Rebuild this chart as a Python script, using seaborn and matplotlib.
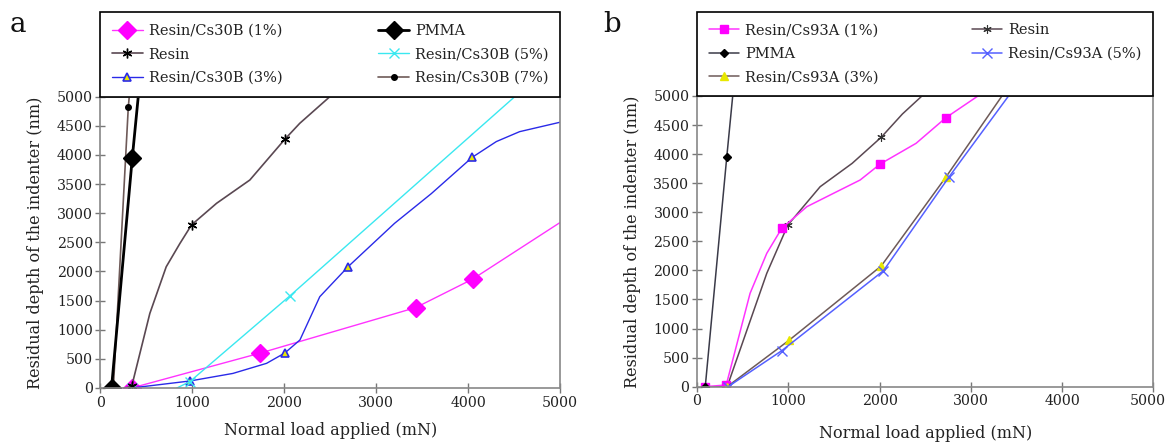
import numpy as np
import pandas as pd
import matplotlib
matplotlib.use("Agg")
import matplotlib.pyplot as plt
import matplotlib.transforms as mtransforms
from matplotlib.lines import Line2D
import seaborn as sns

# ---------------- data ----------------
# Panel a
a_cs30b_1_x = [340, 1740, 3430, 4050, 5000]
a_cs30b_1_y = [0, 600, 1380, 1870, 2840]
a_cs30b_1_mk = [0, 1, 2, 3]

a_pmma_x = [120, 346, 417]
a_pmma_y = [0, 3950, 5100]
a_pmma_mk = [0, 1]

a_resin_x = [120, 340, 537, 715, 864, 991, 1263, 1625, 2005, 2168, 2495]
a_resin_y = [-60, 30, 1280, 2080, 2480, 2800, 3170, 3570, 4268, 4543, 5000]
a_resin_mk = [0, 1, 5, 8]

a_cs30b_5_x = [340, 500, 650, 800, 973, 2060, 4600]
a_cs30b_5_y = [0, -30, -40, -25, 110, 1580, 5130]
a_cs30b_5_mk = [0, 4, 5]

a_cs30b_3_x = [340, 973, 1441, 1807, 2005, 2170, 2386, 2694, 3200, 3600, 4045, 4307, 4560, 5050]
a_cs30b_3_y = [0, 120, 250, 423, 600, 824, 1567, 2082, 2827, 3337, 3960, 4230, 4400, 4580]
a_cs30b_3_mk = [0, 1, 4, 7, 10]

a_cs30b_7_x = [140, 303, 322]
a_cs30b_7_y = [0, 4830, 5150]
a_cs30b_7_mk = [1]

# Panel b
b_cs93a_1_x = [90, 320, 581, 764, 928, 1203, 1495, 1787, 2007, 2400, 2727, 3078]
b_cs93a_1_y = [0, 30, 1606, 2294, 2724, 3096, 3326, 3555, 3830, 4186, 4627, 5000]
b_cs93a_1_mk = [0, 1, 4, 8, 10]

b_pmma_x = [90, 326, 400]
b_pmma_y = [0, 3956, 5150]
b_pmma_mk = [0, 1]

b_resin_x = [90, 330, 764, 995, 1349, 1700, 2018, 2250, 2464]
b_resin_y = [0, 0, 1950, 2781, 3440, 3842, 4290, 4690, 5000]
b_resin_mk = [1, 3, 6]

b_cs93a_3_x = [330, 1012, 2018, 2730, 3341]
b_cs93a_3_y = [0, 803, 2076, 3612, 5000]
b_cs93a_3_mk = [0, 1, 2, 3]

b_cs93a_5_x = [340, 928, 2043, 2763, 3413]
b_cs93a_5_y = [0, 619, 1995, 3612, 5000]
b_cs93a_5_mk = [0, 1, 2, 3]

x_ticks = [0, 1000, 2000, 3000, 4000, 5000]
y_ticks = [0, 500, 1000, 1500, 2000, 2500, 3000, 3500, 4000, 4500, 5000]
x_label = "Normal load applied (mN)"
y_label = "Residual depth of the indenter (nm)"

# ---------------- style ----------------
sns.set_theme(style="white")
plt.rcParams["font.family"] = ["DejaVu Serif"]
FS = 10.5
TFS = 10.2

MAG = "#ff33ff"
CYAN = "#3ae8f0"
BLUE_A = "#2a2ae8"
BLUE_B = "#5560ff"
RESIN = "#5a4852"
BROWN = "#6e5a58"
YEL = "#e8e800"
ASTER = (6, 2, 0)

fig = plt.figure(figsize=(11.67, 4.43), dpi=100)
ax_a = fig.add_axes([0.0861, 0.1242, 0.3938, 0.6575])
ax_b = fig.add_axes([0.5973, 0.1271, 0.3910, 0.6562])


def draw(ax, x, y, mk, label, color, lw, marker, ms, mfc, mec, mew=1.0):
    df = pd.DataFrame({"x": x, "y": y})
    sns.lineplot(data=df, x="x", y="y", ax=ax, sort=False, estimator=None,
                 color=color, linewidth=lw, marker=marker, markersize=ms,
                 markerfacecolor=mfc, markeredgecolor=mec, markeredgewidth=mew,
                 markevery=mk, legend=False)
    return Line2D([], [], color=color, linewidth=lw, marker=marker, markersize=ms,
                  markerfacecolor=mfc, markeredgecolor=mec, markeredgewidth=mew,
                  label=label)


# Panel a series
h_a = {}
h_a["1"] = draw(ax_a, a_cs30b_1_x, a_cs30b_1_y, a_cs30b_1_mk, "Resin/Cs30B (1%)",
                MAG, 1.0, "D", 9, "#ff00ff", "#ff00ff")
h_a["3"] = draw(ax_a, a_cs30b_3_x, a_cs30b_3_y, a_cs30b_3_mk, "Resin/Cs30B (3%)",
                BLUE_A, 1.0, "^", 6, YEL, BLUE_A, 1.2)
h_a["5"] = draw(ax_a, a_cs30b_5_x, a_cs30b_5_y, a_cs30b_5_mk, "Resin/Cs30B (5%)",
                CYAN, 1.0, "x", 7, CYAN, CYAN, 1.0)
h_a["r"] = draw(ax_a, a_resin_x, a_resin_y, a_resin_mk, "Resin",
                RESIN, 1.2, ASTER, 7, "black", "black", 1.0)
h_a["7"] = draw(ax_a, a_cs30b_7_x, a_cs30b_7_y, a_cs30b_7_mk, "Resin/Cs30B (7%)",
                BROWN, 1.2, "o", 4, "black", "black")
h_a["p"] = draw(ax_a, a_pmma_x, a_pmma_y, a_pmma_mk, "PMMA",
                "black", 2.0, "D", 9, "black", "black")

# Panel b series
h_b = {}
h_b["r"] = draw(ax_b, b_resin_x, b_resin_y, b_resin_mk, "Resin",
                RESIN, 1.1, ASTER, 6, "black", "#333333", 0.8)
h_b["1"] = draw(ax_b, b_cs93a_1_x, b_cs93a_1_y, b_cs93a_1_mk, "Resin/Cs93A (1%)",
                MAG, 1.1, "s", 6, "#ff00ff", "#ff00ff")
h_b["3"] = draw(ax_b, b_cs93a_3_x, b_cs93a_3_y, b_cs93a_3_mk, "Resin/Cs93A (3%)",
                BROWN, 1.1, "^", 6, YEL, YEL)
h_b["5"] = draw(ax_b, b_cs93a_5_x, b_cs93a_5_y, b_cs93a_5_mk, "Resin/Cs93A (5%)",
                BLUE_B, 1.1, "x", 7, BLUE_B, BLUE_B, 1.0)
h_b["p"] = draw(ax_b, b_pmma_x, b_pmma_y, b_pmma_mk, "PMMA",
                "#3a3a48", 1.1, "D", 4.5, "black", "black")

for ax, xpad in ((ax_a, 9), (ax_b, 12)):
    ax.set_xlim(0, 5000)
    ax.set_ylim(0, 5000)
    ax.set_xticks(x_ticks)
    ax.set_yticks(y_ticks)
    ax.set_xticklabels([str(v) for v in x_ticks], fontsize=TFS)
    ax.set_yticklabels([str(v) for v in y_ticks], fontsize=TFS)
    ax.tick_params(axis="both", which="major", direction="inout", length=7,
                   width=1, color="#777777", labelcolor="#222222", pad=2, bottom=True, left=True)
    for s in ax.spines.values():
        s.set_color("#888888")
        s.set_linewidth(1.2)
    ax.set_xlabel(x_label, fontsize=11.5, color="#222222", labelpad=xpad)
    ax.set_ylabel(y_label, fontsize=11.5, color="#222222", labelpad=9)
    ax.grid(False)

# keep the last x tick label of panel b inside the figure
last = ax_b.get_xticklabels()[-1]
last.set_transform(last.get_transform() +
                   mtransforms.ScaledTranslation(-6 / 100, 0, fig.dpi_scale_trans))

leg_kw = dict(loc="lower left", bbox_to_anchor=(0, 1.0, 1, 0.29), mode="expand",
              ncol=2, borderaxespad=0, frameon=True, fancybox=False, fontsize=FS,
              handlelength=2.1, handletextpad=0.4, labelspacing=0.65, borderpad=0.8,
              columnspacing=1.0)

la = ax_a.legend(handles=[h_a["1"], h_a["r"], h_a["3"], h_a["p"], h_a["5"], h_a["7"]], **leg_kw)
lb = ax_b.legend(handles=[h_b["1"], h_b["p"], h_b["3"], h_b["r"], h_b["5"]], **leg_kw)
for lg in (la, lb):
    fr = lg.get_frame()
    fr.set_edgecolor("black")
    fr.set_linewidth(1.2)
    fr.set_alpha(1)
    for t in lg.get_texts():
        t.set_color("#222222")

fig.text(0.008, 0.945, "a", fontsize=20, color="#111111", va="center")
fig.text(0.517, 0.945, "b", fontsize=20, color="#111111", va="center")

fig.savefig("out.png", dpi=100)
